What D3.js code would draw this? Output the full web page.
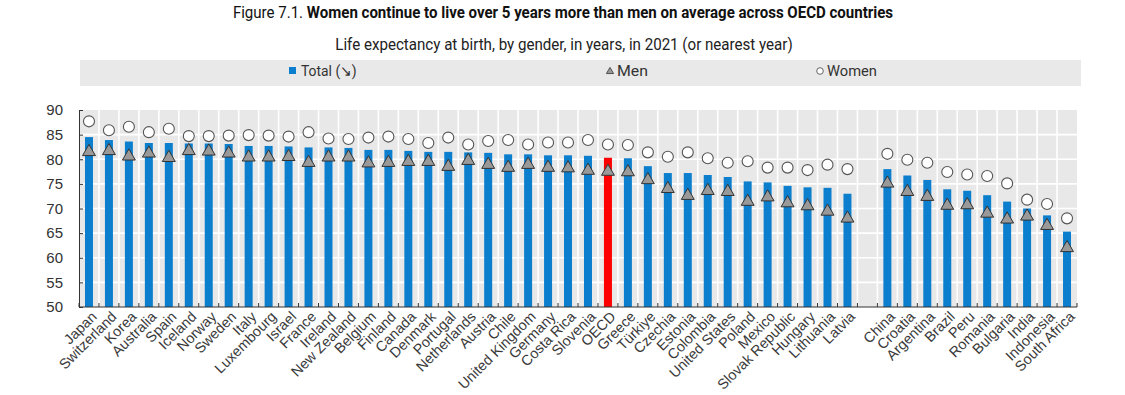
<!DOCTYPE html>
<html>
<head>
<meta charset="utf-8">
<script src="https://cdn.jsdelivr.net/npm/d3@7"></script>
<style>
  body { margin: 0; background: #fff; }
  svg { display: block; }
  .tick-label { font-family: "Liberation Sans", Arial, sans-serif; font-size: 15px; fill: #333; }
  .x-label { font-family: "Liberation Sans", Arial, sans-serif; font-size: 14.4px; fill: #3a3a3a; }
  .hdr { font-family: Roboto, "Liberation Sans", sans-serif; fill: #111; }
</style>
</head>
<body>
<div id="chart"></div>
<script>
// OECD countries (sorted by total), then partner countries
var oecdCountries = ["Japan","Switzerland","Korea","Australia","Spain","Iceland","Norway","Sweden","Italy","Luxembourg","Israel","France","Ireland","New Zealand","Belgium","Finland","Canada","Denmark","Portugal","Netherlands","Austria","Chile","United Kingdom","Germany","Costa Rica","Slovenia","OECD","Greece","Türkiye","Czechia","Estonia","Colombia","United States","Poland","Mexico","Slovak Republic","Hungary","Lithuania","Latvia"];
var partnerCountries = ["China","Croatia","Argentina","Brazil","Peru","Romania","Bulgaria","India","Indonesia","South Africa"];

var totalValues = [84.5,83.9,83.6,83.3,83.3,83.2,83.2,83.1,82.7,82.7,82.6,82.4,82.4,82.3,81.9,81.9,81.7,81.5,81.5,81.4,81.3,81.0,81.0,80.8,80.8,80.7,80.3,80.2,78.6,77.2,77.2,76.8,76.4,75.5,75.3,74.6,74.3,74.2,73.0,
                   78.0,76.7,75.8,73.9,73.6,72.7,71.4,70.0,68.6,65.3];
var menValues = [81.5,81.7,80.6,81.2,80.3,81.7,81.6,81.2,80.4,80.4,80.5,79.3,80.4,80.4,79.2,79.3,79.5,79.5,78.5,79.7,78.9,78.3,78.9,78.3,78.2,77.7,77.5,77.4,75.8,74.0,72.6,73.6,73.4,71.4,72.3,71.1,70.5,69.4,68.0,
                 75.1,73.4,72.4,70.6,70.7,69.0,67.8,68.4,66.5,62.0];
var womenValues = [87.7,85.9,86.6,85.5,86.2,84.7,84.7,84.8,84.9,84.8,84.6,85.5,84.2,84.1,84.4,84.6,84.1,83.3,84.4,83.0,83.7,83.9,83.0,83.4,83.4,83.9,83.0,82.9,81.4,80.5,81.4,80.2,79.3,79.6,78.3,78.3,77.8,78.9,78.0,
                   81.1,79.9,79.3,77.4,76.9,76.6,75.1,71.8,70.9,68.0];
var yTicks = [50,55,60,65,70,75,80,85,90];

var countries = oecdCountries.concat(partnerCountries);
var slots = oecdCountries.concat(["__gap__"], partnerCountries);

var data = countries.map(function(c, i){
  return {name: c, total: totalValues[i], men: menValues[i], women: womenValues[i]};
});

var W = 1125, H = 395;
var svg = d3.select("#chart").append("svg").attr("width", W).attr("height", H);

var x = d3.scaleBand().domain(slots).range([79, 1077]).padding(0);
var y = d3.scaleLinear().domain([50, 90]).range([307, 110]);
var bw = x.bandwidth();
var barW = 8;

// fit a text element horizontally into a given width (condensed look)
function squeeze(sel, cx, cy, width, anchor) {
  var node = sel.node();
  var w = node.getComputedTextLength();
  var k = width / w;
  sel.attr("transform", "translate(" + cx + "," + cy + ") scale(" + k + ",1)")
     .attr("text-anchor", anchor || "middle");
}

// title
var title = svg.append("text").attr("class", "hdr").style("font-size", "16px");
title.append("tspan").text("Figure 7.1. ");
title.append("tspan").style("font-weight", "bold").text("Women continue to live over 5 years more than men on average across OECD countries");
squeeze(title, 563, 18, 661);

var sub = svg.append("text").attr("class", "hdr").style("font-size", "16px").style("fill", "#222")
  .text("Life expectancy at birth, by gender, in years, in 2021 (or nearest year)");
squeeze(sub, 564, 50, 458);

// legend band
svg.append("rect").attr("x", 80).attr("y", 60).attr("width", 1001).attr("height", 26).attr("fill", "#e9e9e9");
svg.append("rect").attr("x", 289).attr("y", 67).attr("width", 7).attr("height", 7).attr("fill", "#0b7fce");
var lt = svg.append("text").attr("class", "hdr").style("font-size", "15px").style("fill", "#333").text("Total (\u2198)");
squeeze(lt, 301, 76, 56, "start");
svg.append("path").attr("d", d3.symbol().type(d3.symbolTriangle).size(22)())
  .attr("transform", "translate(610,71.5)").attr("fill", "#9a9a9a").attr("stroke", "#333").attr("stroke-width", 0.8);
var lm = svg.append("text").attr("class", "hdr").style("font-size", "15px").style("fill", "#333").text("Men");
squeeze(lm, 617, 76, 31, "start");
svg.append("circle").attr("cx", 820).attr("cy", 71).attr("r", 3.3).attr("fill", "#fff").attr("stroke", "#555").attr("stroke-width", 0.9);
var lw = svg.append("text").attr("class", "hdr").style("font-size", "15px").style("fill", "#333").text("Women");
squeeze(lw, 827, 76, 50, "start");

// plot background and grid
svg.append("rect").attr("x", 79).attr("y", y(90)).attr("width", 998).attr("height", y(50) - y(90)).attr("fill", "#e8e8e8");
svg.append("g").selectAll("line.hg").data(yTicks.slice(1, -1)).enter()
  .append("line").attr("x1", 79).attr("x2", 1077)
  .attr("y1", function(d){ return y(d); }).attr("y2", function(d){ return y(d); })
  .attr("stroke", "#fff").attr("stroke-width", 1.6);
svg.append("g").selectAll("line.vg").data(slots.slice(1)).enter()
  .append("line").attr("y1", y(90)).attr("y2", y(50))
  .attr("x1", function(d){ return x(d); }).attr("x2", function(d){ return x(d); })
  .attr("stroke", "#fff").attr("stroke-width", 1.6);

// bars
svg.append("g").selectAll("rect.bar").data(data).enter()
  .append("rect").attr("class", "bar")
  .attr("x", function(d){ return x(d.name) + bw / 2 - barW / 2; })
  .attr("width", barW)
  .attr("y", function(d){ return y(d.total); })
  .attr("height", function(d){ return y(50) - y(d.total); })
  .attr("fill", function(d){ return d.name === "OECD" ? "#ff0000" : "#0b7fce"; });

// men triangles
svg.append("g").selectAll("path.men").data(data).enter()
  .append("path").attr("class", "men")
  .attr("d", d3.symbol().type(d3.symbolTriangle).size(72)())
  .attr("transform", function(d){ return "translate(" + (x(d.name) + bw / 2) + "," + y(d.men) + ")"; })
  .attr("fill", "#999").attr("stroke", "#333").attr("stroke-width", 1);

// women circles
svg.append("g").selectAll("circle.women").data(data).enter()
  .append("circle").attr("class", "women")
  .attr("cx", function(d){ return x(d.name) + bw / 2; })
  .attr("cy", function(d){ return y(d.women); })
  .attr("r", 5.5)
  .attr("fill", "#fff").attr("stroke", "#555").attr("stroke-width", 1.1);

// y axis
var yAxis = d3.axisLeft(y).tickValues(yTicks).tickSizeInner(-4).tickSizeOuter(0).tickPadding(16);
var gy = svg.append("g").attr("transform", "translate(79,0)").call(yAxis);
gy.select(".domain").attr("stroke", "#333");
gy.selectAll(".tick line").attr("stroke", "#333");
gy.selectAll(".tick text").attr("class", "tick-label").attr("font-size", null).attr("font-family", null).attr("fill", null);

// x axis: baseline with inward ticks at slot boundaries
svg.append("line").attr("x1", 79).attr("x2", 1077).attr("y1", y(50)).attr("y2", y(50)).attr("stroke", "#333").attr("stroke-width", 1.2);
var bounds = slots.map(function(s){ return x(s); }).concat([1077]);
svg.append("g").selectAll("line.xt").data(bounds).enter()
  .append("line").attr("x1", function(d){ return d; }).attr("x2", function(d){ return d; })
  .attr("y1", y(50)).attr("y2", y(50) - 4).attr("stroke", "#333");

svg.append("g").selectAll("text.xl").data(data).enter()
  .append("text").attr("class", "x-label")
  .attr("text-anchor", "end")
  .attr("transform", function(d){ return "translate(" + (x(d.name) + bw / 2 + 5) + ",314) rotate(-45)"; })
  .attr("dy", "0.35em")
  .text(function(d){ return d.name; });
</script>
</body>
</html>
